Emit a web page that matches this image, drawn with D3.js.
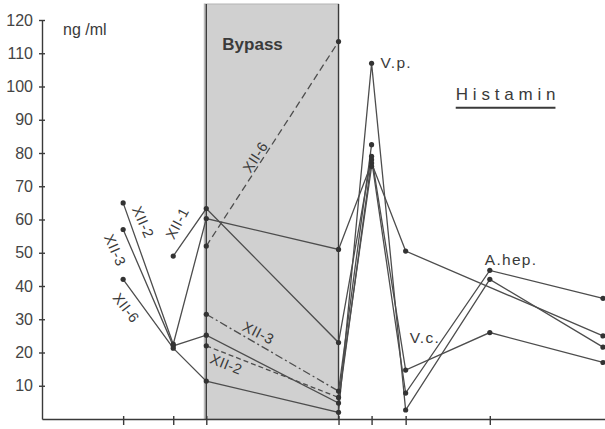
<!DOCTYPE html>
<html lang="de">
<head>
    <meta charset="UTF-8">
    <title>Histamin</title>
    <style>
        body { margin: 0; background: #fff; }
        svg text { font-family: "Liberation Sans", Arial, sans-serif; fill: #3a3a3a; }
        .axis path, .axis line { stroke: #3a3a3a; stroke-width: 1.4px; }
        .axis text { font-size: 16px; fill: #444; }
        .curve { fill: none; stroke: #4d4d4d; stroke-width: 1.3px; }
        .tag { font-size: 14.5px; letter-spacing: 0.5px; }
    </style>
</head>
<body>
    <script src="https://d3js.org/d3.v7.min.js"></script>
    <script>
        // Messzeitpunkte (willkürliche Zeiteinheit) und Werte in ng/ml
        const sampleTimes = [8.1, 13.1, 16.4, 29.6, 32.9, 36.3, 44.7, 56];
        const yTicks = [10, 20, 30, 40, 50, 60, 70, 80, 90, 100, 110, 120];

        const xii1 = [null, 49, 63.3, 23, 79, 14.7, 26, 17];
        const xii2 = [65, 22.5, 60.3, 51, 77, 50.5, null, 25];
        const xii3 = [57, 22, 25.2, 4.8, 78, 7.8, 44.7, 36.3];
        const xii6 = [42, 21.3, 11.4, 2, 107, 2.7, 42, 21.6];

        // Werte während Bypass (gestrichelt)
        const bypassXii6 = [null, null, 52, 113.5, null, null, null, null];
        const bypassXii3 = [null, null, 31.5, 8.4, 82.5, null, null, null];
        const bypassXii2 = [null, null, 22, 6.5, 76, null, null, null];

        const width = 605, height = 429;

        const x = d3.scaleLinear().domain([0, 56.2]).range([42, 605]);
        const y = d3.scaleLinear().domain([0, 120]).range([419, 20]);

        const svg = d3.select("body").append("svg")
            .attr("width", width)
            .attr("height", height);

        // Bypass-Feld
        const bx0 = x(sampleTimes[2]), bx1 = x(sampleTimes[3]);
        svg.append("rect")
            .attr("x", bx0 - 2).attr("y", 4)
            .attr("width", bx1 - bx0 + 2).attr("height", y(0) - 4)
            .attr("fill", "#d0d0d0")
            .attr("stroke", "#b4b4b4");
        [bx0, bx1].forEach(bx => {
            svg.append("line")
                .attr("x1", bx).attr("x2", bx)
                .attr("y1", 4).attr("y2", y(0))
                .attr("stroke", "#3a3a3a").attr("stroke-width", 1.4);
        });

        svg.append("text")
            .attr("x", x(18)).attr("y", y(111))
            .style("font-size", "17px").style("font-weight", "bold")
            .text("Bypass");

        // Achsen
        svg.append("g").attr("class", "axis")
            .attr("transform", `translate(${x(0)},0)`)
            .call(d3.axisLeft(y).tickValues(yTicks).tickSize(3).tickPadding(6).tickSizeOuter(0))
            .call(g => g.selectAll(".tick line").attr("x2", 3).attr("x1", -3));

        svg.append("g").attr("class", "axis")
            .attr("transform", `translate(0,${y(0)})`)
            .call(d3.axisBottom(x).tickValues(sampleTimes.slice(0, 7)).tickSize(6).tickFormat("").tickSizeOuter(0))
            .call(g => g.selectAll(".tick line").attr("y1", -3));

        svg.append("text")
            .attr("x", x(2.1)).attr("y", y(115.5))
            .style("font-size", "16px")
            .text("ng /ml");

        const line = d3.line()
            .x(d => x(d.t))
            .y(d => y(d.v));

        function pts(values, from = 0, to = values.length - 1) {
            return values.map((v, i) => ({t: sampleTimes[i], v, i}))
                .filter(d => d.v != null && d.i >= from && d.i <= to);
        }

        const solid = [xii1, xii2, xii3, xii6];
        solid.forEach(s => {
            svg.append("path").attr("class", "curve").attr("d", line(pts(s)));
        });

        const dashed = [
            {values: bypassXii6, dash: "7,4"},
            {values: bypassXii3, dash: "8,3,2,3"},
            {values: bypassXii2, dash: "5,3"}
        ];
        dashed.forEach(s => {
            svg.append("path").attr("class", "curve")
                .attr("stroke-dasharray", s.dash)
                .attr("d", line(pts(s.values, 2, 3)));
            const rest = pts(s.values, 3);
            if (rest.length > 1) {
                svg.append("path").attr("class", "curve").attr("d", line(rest));
            }
        });

        // Messpunkte
        const allPts = solid.concat(dashed.map(s => s.values)).flatMap(s => pts(s));
        svg.selectAll("circle.dot")
            .data(allPts)
            .join("circle")
            .attr("class", "dot")
            .attr("cx", d => x(d.t)).attr("cy", d => y(d.v))
            .attr("r", 2.6)
            .attr("fill", "#333");

        // Bezeichnungen der Kurven
        const tags = [
            {text: "XII-2", t: 10.1, v: 59.2, angle: 66},
            {text: "XII-3", t: 7.3, v: 50.8, angle: 66},
            {text: "XII-6", t: 8.4, v: 33.4, angle: 52},
            {text: "XII-1", t: 13.5, v: 58.9, angle: -62},
            {text: "XII-6", t: 21.3, v: 78.8, angle: -57},
            {text: "XII-3", t: 21.6, v: 25.9, angle: 27},
            {text: "XII-2", t: 18.4, v: 16.5, angle: 22}
        ];
        svg.selectAll("text.tag")
            .data(tags)
            .join("text")
            .attr("class", "tag")
            .attr("text-anchor", "middle")
            .attr("dy", "0.35em")
            .attr("transform", d => `translate(${x(d.t)},${y(d.v)}) rotate(${d.angle})`)
            .text(d => d.text);

        // Entnahmestellen
        const sites = [
            {text: "V.p.", t: sampleTimes[4] + 0.9, v: 105.5},
            {text: "V.c.", t: sampleTimes[5] + 0.4, v: 23},
            {text: "A.hep.", t: sampleTimes[6] - 0.5, v: 46.3}
        ];
        svg.selectAll("text.site")
            .data(sites)
            .join("text")
            .attr("class", "site")
            .attr("x", d => x(d.t)).attr("y", d => y(d.v))
            .style("font-size", "15.5px")
            .style("letter-spacing", "1.3px")
            .text(d => d.text);

        const title = svg.append("text")
            .attr("x", x(41.3)).attr("y", y(96))
            .style("font-size", "17px")
            .style("letter-spacing", "4.8px")
            .text("Histamin");
        const tw = title.node().getComputedTextLength() - 4.8;
        svg.append("line")
            .attr("x1", x(41.3)).attr("x2", x(41.3) + tw)
            .attr("y1", y(93.6)).attr("y2", y(93.6))
            .attr("stroke", "#3a3a3a").attr("stroke-width", 2);
    </script>
</body>
</html>
